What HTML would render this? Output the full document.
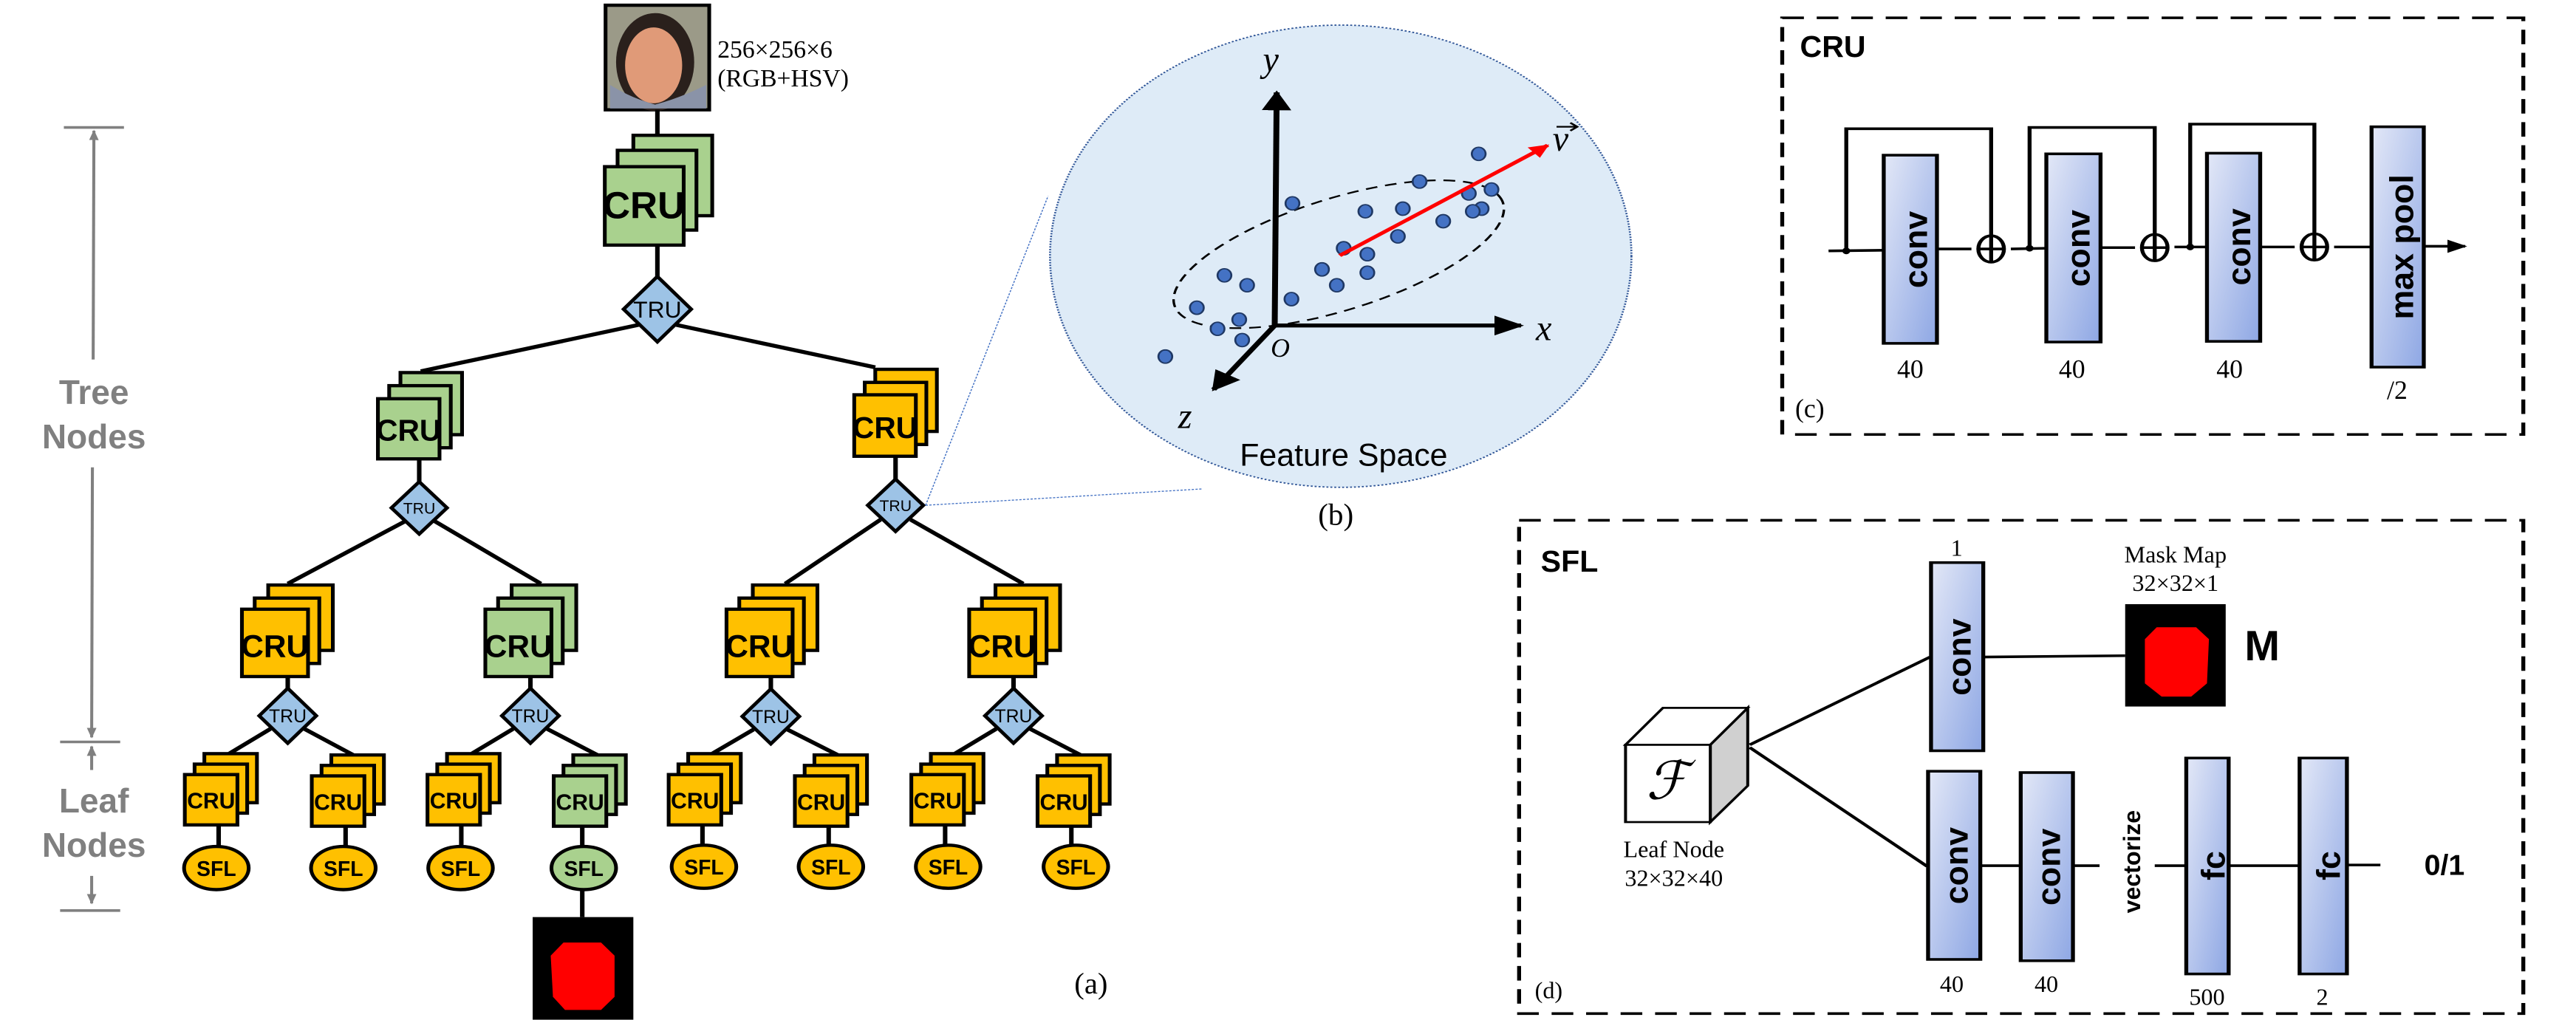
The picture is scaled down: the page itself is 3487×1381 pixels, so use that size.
<!DOCTYPE html>
<html><head><meta charset="utf-8"><style>
html,body{margin:0;padding:0;background:#fff}
svg{display:block}
.sr{font-family:"Liberation Serif",serif}
.sn{font-family:"Liberation Sans",sans-serif}
.b{font-weight:bold}
</style></head><body>
<svg width="3487" height="1381" viewBox="0 0 3487 1381" xmlns="http://www.w3.org/2000/svg">
<defs>
<linearGradient id="lg" x1="0" y1="0" x2="1" y2="1">
<stop offset="0" stop-color="#e3e8f7"/><stop offset="1" stop-color="#8ea7e4"/>
</linearGradient>
<marker id="ar" viewBox="0 0 10 10" refX="9" refY="5" markerWidth="5" markerHeight="5" orient="auto"><path d="M0,0L10,5L0,10z" fill="#000"/></marker>
<marker id="arr" viewBox="0 0 10 10" refX="9" refY="5" markerWidth="4" markerHeight="4" orient="auto"><path d="M0,0L10,5L0,10z" fill="#f00"/></marker>
<marker id="ag" viewBox="0 0 10 10" refX="9" refY="5" markerWidth="4" markerHeight="5" orient="auto"><path d="M0,1L10,5L0,9z" fill="#808080"/></marker>
</defs>

<!-- LEFT GROUP -->
<g transform="scale(1.017 0.885)">
<rect x="806" y="8" width="138" height="160" fill="#9b9a88" stroke="#000" stroke-width="5"/>
<ellipse cx="872" cy="95" rx="52" ry="75" fill="#2a201c"/>
<ellipse cx="870" cy="100" rx="38" ry="58" fill="#e09a78"/>
<path d="M812,166 L812,130 Q840,150 872,160 Q905,150 940,130 L940,166z" fill="#8a93a8"/>
<g class="sr" font-size="38">
<text transform="translate(955 88) scale(0.87 1)">256×256×6</text>
<text transform="translate(955 132) scale(0.87 1)">(RGB+HSV)</text>
</g>
<g stroke="#000" stroke-width="6" fill="none">
<line x1="875" y1="168" x2="875" y2="255"/>
<line x1="875" y1="375" x2="875" y2="425"/>
<line x1="850" y1="497" x2="560" y2="568"/>
<line x1="900" y1="497" x2="1165" y2="562"/>
<line x1="558" y1="702" x2="558" y2="738"/>
<line x1="1192" y1="698" x2="1192" y2="735"/>
<line x1="540" y1="797" x2="383" y2="893"/>
<line x1="578" y1="797" x2="720" y2="893"/>
<line x1="1172" y1="795" x2="1045" y2="893"/>
<line x1="1212" y1="795" x2="1362" y2="893"/>
<line x1="383" y1="1035" x2="383" y2="1053"/>
<line x1="706" y1="1035" x2="706" y2="1053"/>
<line x1="1026" y1="1035" x2="1026" y2="1054"/>
<line x1="1349" y1="1035" x2="1349" y2="1053"/>
<line x1="360" y1="1115" x2="305" y2="1153"/><line x1="405" y1="1115" x2="470" y2="1155"/>
<line x1="683" y1="1115" x2="628" y2="1153"/><line x1="728" y1="1115" x2="795" y2="1155"/>
<line x1="1003" y1="1116" x2="948" y2="1153"/><line x1="1048" y1="1116" x2="1115" y2="1155"/>
<line x1="1326" y1="1115" x2="1271" y2="1153"/><line x1="1371" y1="1115" x2="1438" y2="1155"/>
<line x1="291" y1="1262" x2="291" y2="1296"/><line x1="460" y1="1262" x2="460" y2="1296"/>
<line x1="614" y1="1262" x2="614" y2="1296"/><line x1="775" y1="1262" x2="775" y2="1296"/>
<line x1="935" y1="1262" x2="935" y2="1294"/><line x1="1103" y1="1262" x2="1103" y2="1294"/>
<line x1="1258" y1="1262" x2="1258" y2="1294"/><line x1="1426" y1="1262" x2="1426" y2="1294"/>
<line x1="775" y1="1360" x2="775" y2="1403"/>
</g>
<g stroke="#000" stroke-width="5">
<g fill="#a9d18e"><rect x="843" y="207" width="105" height="123"/><rect x="822" y="230" width="105" height="122"/><rect x="805" y="255" width="105" height="120"/></g>
<g fill="#a9d18e"><rect x="533" y="570" width="82" height="95"/><rect x="518" y="590" width="82" height="95"/><rect x="503" y="610" width="82" height="92"/></g>
<g fill="#ffc000"><rect x="1165" y="565" width="82" height="95"/><rect x="1151" y="585" width="82" height="95"/><rect x="1137" y="604" width="82" height="94"/></g>
<g fill="#ffc000"><rect x="357" y="895" width="86" height="100"/><rect x="339" y="915" width="86" height="100"/><rect x="322" y="932" width="88" height="103"/></g>
<g fill="#a9d18e"><rect x="681" y="895" width="86" height="100"/><rect x="663" y="915" width="86" height="100"/><rect x="646" y="932" width="88" height="103"/></g>
<g fill="#ffc000"><rect x="1002" y="895" width="86" height="100"/><rect x="984" y="915" width="86" height="100"/><rect x="967" y="932" width="88" height="103"/></g>
<g fill="#ffc000"><rect x="1325" y="895" width="86" height="100"/><rect x="1307" y="915" width="86" height="100"/><rect x="1290" y="932" width="88" height="103"/></g>
<g fill="#ffc000">
<rect x="272" y="1153" width="70" height="75"/><rect x="259" y="1169" width="70" height="75"/><rect x="246" y="1185" width="70" height="77"/>
<rect x="441" y="1155" width="70" height="75"/><rect x="428" y="1171" width="70" height="75"/><rect x="415" y="1187" width="70" height="77"/>
<rect x="595" y="1153" width="70" height="75"/><rect x="582" y="1169" width="70" height="75"/><rect x="569" y="1185" width="70" height="77"/>
<rect x="916" y="1153" width="70" height="75"/><rect x="903" y="1169" width="70" height="75"/><rect x="890" y="1185" width="70" height="77"/>
<rect x="1084" y="1155" width="70" height="75"/><rect x="1071" y="1171" width="70" height="75"/><rect x="1058" y="1187" width="70" height="77"/>
<rect x="1239" y="1153" width="70" height="75"/><rect x="1226" y="1169" width="70" height="75"/><rect x="1213" y="1185" width="70" height="77"/>
<rect x="1407" y="1155" width="70" height="75"/><rect x="1394" y="1171" width="70" height="75"/><rect x="1381" y="1187" width="70" height="77"/>
</g>
<g fill="#a9d18e"><rect x="763" y="1155" width="70" height="75"/><rect x="750" y="1171" width="70" height="75"/><rect x="737" y="1187" width="70" height="77"/></g>
<g fill="#9dc3e6">
<path d="M875,423 L920,473 L875,523 L830,473z"/>
<path d="M558,737 L595,777 L558,817 L521,777z"/>
<path d="M1192,733 L1229,773 L1192,813 L1155,773z"/>
<path d="M383,1053 L421,1095 L383,1137 L345,1095z"/>
<path d="M706,1053 L744,1095 L706,1137 L668,1095z"/>
<path d="M1026,1054 L1064,1096 L1026,1138 L988,1096z"/>
<path d="M1349,1053 L1387,1095 L1349,1137 L1311,1095z"/>
</g>
<g fill="#ffc000">
<ellipse cx="288" cy="1328" rx="43" ry="33"/><ellipse cx="457" cy="1328" rx="43" ry="33"/><ellipse cx="613" cy="1328" rx="43" ry="33"/>
<ellipse cx="937" cy="1326" rx="43" ry="33"/><ellipse cx="1106" cy="1326" rx="43" ry="33"/><ellipse cx="1262" cy="1326" rx="43" ry="33"/><ellipse cx="1432" cy="1326" rx="43" ry="33"/>
</g>
<ellipse cx="777" cy="1328" rx="43" ry="33" fill="#a9d18e"/>
</g>
<g class="sn b" text-anchor="middle" fill="#000">
<text font-size="58" transform="translate(857 334) scale(0.87 1)">CRU</text>
<text font-size="46" transform="translate(544 674) scale(0.87 1)">CRU</text>
<text font-size="46" transform="translate(1178 670) scale(0.87 1)">CRU</text>
<text font-size="48" transform="translate(366 1005) scale(0.87 1)">CRU</text>
<text font-size="48" transform="translate(690 1005) scale(0.87 1)">CRU</text>
<text font-size="48" transform="translate(1011 1005) scale(0.87 1)">CRU</text>
<text font-size="48" transform="translate(1334 1005) scale(0.87 1)">CRU</text>
<g font-size="34">
<text transform="translate(281 1237) scale(0.87 1)">CRU</text><text transform="translate(450 1239) scale(0.87 1)">CRU</text>
<text transform="translate(604 1237) scale(0.87 1)">CRU</text><text transform="translate(772 1239) scale(0.87 1)">CRU</text>
<text transform="translate(925 1237) scale(0.87 1)">CRU</text><text transform="translate(1093 1239) scale(0.87 1)">CRU</text>
<text transform="translate(1248 1237) scale(0.87 1)">CRU</text><text transform="translate(1416 1239) scale(0.87 1)">CRU</text>
</g>
<g font-size="32">
<text transform="translate(288 1340) scale(0.87 1)">SFL</text><text transform="translate(457 1340) scale(0.87 1)">SFL</text>
<text transform="translate(613 1340) scale(0.87 1)">SFL</text><text transform="translate(777 1340) scale(0.87 1)">SFL</text>
<text transform="translate(937 1338) scale(0.87 1)">SFL</text><text transform="translate(1106 1338) scale(0.87 1)">SFL</text>
<text transform="translate(1262 1338) scale(0.87 1)">SFL</text><text transform="translate(1432 1338) scale(0.87 1)">SFL</text>
</g>
<text font-size="36" font-weight="normal" transform="translate(875 486) scale(0.87 1)">TRU</text>
<g font-size="24" font-weight="normal">
<text transform="translate(558 786) scale(0.87 1)">TRU</text><text transform="translate(1192 782) scale(0.87 1)">TRU</text>
</g>
<g font-size="28" font-weight="normal">
<text transform="translate(383 1105) scale(0.87 1)">TRU</text><text transform="translate(706 1105) scale(0.87 1)">TRU</text>
<text transform="translate(1026 1106) scale(0.87 1)">TRU</text><text transform="translate(1349 1105) scale(0.87 1)">TRU</text>
</g>
</g>
<rect x="709" y="1403" width="134" height="157" fill="#000"/>
<path d="M750,1442 L800,1442 L818,1462 L818,1525 L800,1545 L752,1545 L736,1525 L733,1462z" fill="#f00"/>
<text class="sr" font-size="46" transform="translate(1430 1520) scale(0.87 1)">(a)</text>
<g stroke="#808080" stroke-width="4" fill="none">
<line x1="85" y1="195" x2="165" y2="195"/>
<line x1="124" y1="550" x2="125" y2="200" marker-end="url(#ag)"/>
<line x1="123" y1="715" x2="122" y2="1128" marker-end="url(#ag)"/>
<line x1="80" y1="1135" x2="160" y2="1135"/>
<line x1="122" y1="1178" x2="122" y2="1142" marker-end="url(#ag)"/>
<line x1="122" y1="1340" x2="122" y2="1382" marker-end="url(#ag)"/>
<line x1="80" y1="1393" x2="160" y2="1393"/>
</g>
<g class="sn b" fill="#808080" font-size="52" text-anchor="middle">
<text transform="translate(125 618) scale(0.87 1)">Tree</text>
<text transform="translate(125 686) scale(0.87 1)">Nodes</text>
<text transform="translate(125 1243) scale(0.87 1)">Leaf</text>
<text transform="translate(125 1311) scale(0.87 1)">Nodes</text>
</g>
<g stroke="#4472c4" stroke-width="1.5" stroke-dasharray="3,2" fill="none">
<line x1="1232" y1="773" x2="1395" y2="300"/>
<line x1="1232" y1="773" x2="1600" y2="748"/>
</g>
</g>

<!-- RIGHT GROUP -->
<g transform="translate(1392 0) scale(1.334 0.894)">
<ellipse cx="317" cy="388" rx="295" ry="350" fill="#deebf7" stroke="#2f5597" stroke-width="2" stroke-dasharray="2,2"/>
<ellipse cx="315" cy="385" rx="185" ry="80" transform="rotate(-28 315 385)" fill="none" stroke="#000" stroke-width="2.5" stroke-dasharray="12,8"/>
<g stroke="#000" stroke-width="6" fill="none">
<line x1="250" y1="495" x2="252" y2="140" marker-end="url(#ar)"/>
<line x1="250" y1="493" x2="500" y2="493" marker-end="url(#ar)"/>
<line x1="250" y1="493" x2="188" y2="590" marker-end="url(#ar)"/>
</g>
<g fill="#4472c4" stroke="#1f3864" stroke-width="2">
<ellipse cx="457" cy="233" rx="7" ry="10"/><ellipse cx="397" cy="275" rx="7" ry="10"/><ellipse cx="268" cy="308" rx="7" ry="10"/>
<ellipse cx="342" cy="320" rx="7" ry="10"/><ellipse cx="380" cy="316" rx="7" ry="10"/><ellipse cx="447" cy="293" rx="7" ry="10"/>
<ellipse cx="470" cy="287" rx="7" ry="10"/><ellipse cx="460" cy="316" rx="7" ry="10"/><ellipse cx="451" cy="320" rx="7" ry="10"/>
<ellipse cx="421" cy="335" rx="7" ry="10"/><ellipse cx="375" cy="358" rx="7" ry="10"/><ellipse cx="320" cy="376" rx="7" ry="10"/>
<ellipse cx="344" cy="385" rx="7" ry="10"/><ellipse cx="298" cy="408" rx="7" ry="10"/><ellipse cx="344" cy="413" rx="7" ry="10"/>
<ellipse cx="313" cy="432" rx="7" ry="10"/><ellipse cx="267" cy="453" rx="7" ry="10"/><ellipse cx="199" cy="417" rx="7" ry="10"/>
<ellipse cx="222" cy="432" rx="7" ry="10"/><ellipse cx="171" cy="466" rx="7" ry="10"/><ellipse cx="192" cy="498" rx="7" ry="10"/>
<ellipse cx="214" cy="484" rx="7" ry="10"/><ellipse cx="217" cy="515" rx="7" ry="10"/><ellipse cx="139" cy="540" rx="7" ry="10"/>
</g>
<line x1="316" y1="387" x2="527" y2="220" stroke="#f00" stroke-width="5" marker-end="url(#arr)"/>
<g class="sr" font-style="italic" font-size="54">
<text transform="translate(238 108) scale(0.67 1)">y</text>
<text transform="translate(515 515) scale(0.67 1)">x</text>
<text transform="translate(152 648) scale(0.67 1)">z</text>
<text transform="translate(532 228) scale(0.67 1)">v</text>
<text font-size="40" transform="translate(246 540) scale(0.67 1)">O</text>
</g>
<path d="M536,192 L556,192 M550,186 L557,192 L550,198" stroke="#000" stroke-width="2.5" fill="none"/>
<text class="sn" font-size="48" text-anchor="middle" transform="translate(320 705) scale(0.67 1)">Feature Space</text>
<text class="sr" font-size="46" text-anchor="middle" transform="translate(312 795) scale(0.67 1)">(b)</text>

<rect x="765" y="27" width="752" height="631" fill="none" stroke="#000" stroke-width="4" stroke-dasharray="22,13"/>
<text class="sn b" font-size="46" transform="translate(783 86) scale(0.67 1)">CRU</text>
<g stroke="#000" stroke-width="4" fill="none">
<line x1="812" y1="380" x2="868" y2="379"/>
<line x1="922" y1="377" x2="957" y2="377"/>
<line x1="997" y1="377" x2="1033" y2="376"/>
<line x1="1088" y1="375" x2="1123" y2="375"/>
<line x1="1163" y1="374" x2="1196" y2="374"/>
<line x1="1250" y1="374" x2="1285" y2="374"/>
<line x1="1325" y1="374" x2="1363" y2="374"/>
<line x1="1416" y1="373" x2="1458" y2="373" marker-end="url(#ar)"/>
<polyline points="830,378 830,195 977,195 977,357"/>
<polyline points="1016,376 1016,193 1143,193 1143,355"/>
<polyline points="1179,374 1179,188 1305,188 1305,354"/>
<ellipse cx="977" cy="377" rx="13" ry="20"/><line x1="964" y1="377" x2="990" y2="377"/><line x1="977" y1="357" x2="977" y2="397"/>
<ellipse cx="1143" cy="375" rx="13" ry="20"/><line x1="1130" y1="375" x2="1156" y2="375"/><line x1="1143" y1="355" x2="1143" y2="395"/>
<ellipse cx="1305" cy="374" rx="13" ry="20"/><line x1="1292" y1="374" x2="1318" y2="374"/><line x1="1305" y1="354" x2="1305" y2="394"/>
</g>
<g fill="#000"><ellipse cx="830" cy="380" rx="4" ry="5"/><ellipse cx="1016" cy="376" rx="4" ry="5"/><ellipse cx="1179" cy="374" rx="4" ry="5"/></g>
<g fill="url(#lg)" stroke="#000" stroke-width="4">
<rect x="868" y="235" width="54" height="285"/><rect x="1033" y="233" width="55" height="285"/>
<rect x="1196" y="232" width="54" height="285"/><rect x="1363" y="192" width="53" height="364"/>
</g>
<g class="sn b" font-size="50" text-anchor="middle">
<text transform="translate(912 378) rotate(-90) scale(1 0.67)">conv</text>
<text transform="translate(1077 376) rotate(-90) scale(1 0.67)">conv</text>
<text transform="translate(1240 374) rotate(-90) scale(1 0.67)">conv</text>
<text transform="translate(1405 374) rotate(-90) scale(1 0.67)">max pool</text>
</g>
<g class="sr" font-size="40" text-anchor="middle">
<text transform="translate(895 572) scale(0.67 1)">40</text>
<text transform="translate(1059 572) scale(0.67 1)">40</text>
<text transform="translate(1219 572) scale(0.67 1)">40</text>
<text transform="translate(1389 604) scale(0.67 1)">/2</text>
<text transform="translate(793 632) scale(0.67 1)">(c)</text>
</g>

<rect x="498" y="788" width="1019" height="747" fill="none" stroke="#000" stroke-width="4" stroke-dasharray="22,13"/>
<text class="sn b" font-size="46" transform="translate(520 866) scale(0.67 1)">SFL</text>
<g stroke="#000" stroke-width="3">
<path d="M692,1128 L730,1072 L730,1190 L692,1245z" fill="#d0d0d0"/>
<path d="M606,1128 L644,1072 L730,1072 L692,1128z" fill="#fff"/>
<rect x="606" y="1128" width="86" height="117" fill="#fff"/>
</g>
<text class="sr" font-style="italic" font-size="80" text-anchor="middle" transform="translate(648 1210) scale(0.67 1)">ℱ</text>
<g class="sr" font-size="36" text-anchor="middle">
<text transform="translate(655 1298) scale(0.67 1)">Leaf Node</text>
<text transform="translate(655 1342) scale(0.67 1)">32×32×40</text>
<text transform="translate(1164 852) scale(0.67 1)">Mask Map</text>
<text transform="translate(1164 895) scale(0.67 1)">32×32×1</text>
<text transform="translate(942 842) scale(0.67 1)">1</text>
<text transform="translate(937 1502) scale(0.67 1)">40</text>
<text transform="translate(1033 1502) scale(0.67 1)">40</text>
<text transform="translate(1196 1522) scale(0.67 1)">500</text>
<text transform="translate(1313 1522) scale(0.67 1)">2</text>
<text transform="translate(528 1512) scale(0.67 1)">(d)</text>
</g>
<g stroke="#000" stroke-width="4" fill="none">
<line x1="732" y1="1128" x2="915" y2="995"/>
<line x1="732" y1="1132" x2="912" y2="1312"/>
<line x1="969" y1="995" x2="1113" y2="993"/>
<line x1="966" y1="1311" x2="1007" y2="1311"/>
<line x1="1060" y1="1311" x2="1087" y2="1311"/>
<line x1="1143" y1="1311" x2="1175" y2="1311"/>
<line x1="1218" y1="1311" x2="1290" y2="1311"/>
<line x1="1338" y1="1310" x2="1372" y2="1310"/>
</g>
<g fill="url(#lg)" stroke="#000" stroke-width="4">
<rect x="916" y="852" width="53" height="285"/>
<rect x="913" y="1168" width="53" height="285"/><rect x="1007" y="1170" width="53" height="285"/>
<rect x="1175" y="1148" width="43" height="327"/><rect x="1290" y="1148" width="48" height="327"/>
</g>
<rect x="1113" y="915" width="102" height="155" fill="#000"/>
<path d="M1145,950 L1185,950 L1198,968 L1196,1035 L1180,1055 L1150,1055 L1133,1035 L1133,968z" fill="#f00"/>
<g class="sn b" text-anchor="middle">
<text font-size="50" transform="translate(956 995) rotate(-90) scale(1 0.67)">conv</text>
<text font-size="50" transform="translate(953 1311) rotate(-90) scale(1 0.67)">conv</text>
<text font-size="50" transform="translate(1047 1313) rotate(-90) scale(1 0.67)">conv</text>
<text font-size="50" transform="translate(1214 1311) rotate(-90) scale(1 0.67)">fc</text>
<text font-size="50" transform="translate(1331 1311) rotate(-90) scale(1 0.67)">fc</text>
<text font-size="36" transform="translate(1128 1305) rotate(-90) scale(1 0.67)">vectorize</text>
<text font-size="64" transform="translate(1252 1000) scale(0.67 1)">M</text>
<text font-size="44" transform="translate(1437 1325) scale(0.67 1)">0/1</text>
</g>
</g>
</svg>
</body></html>
